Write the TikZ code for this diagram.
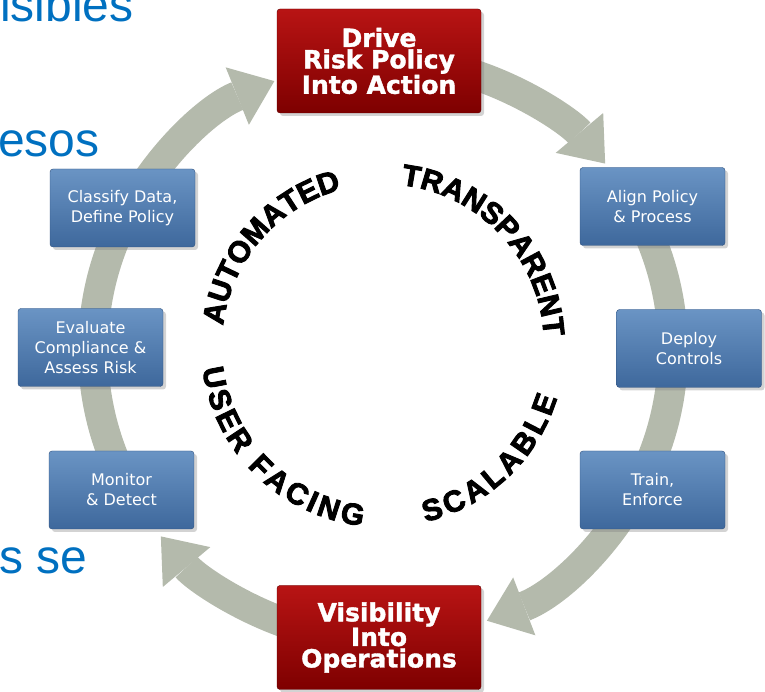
\documentclass[tikz,border=0pt]{standalone}
\usepackage{fontspec}
\usepackage{xcolor}
\usepackage{tikz}
\usetikzlibrary{arrows.meta, decorations.text, shadows}

\newfontfamily\slidefont{Liberation Sans}
\newfontfamily\heavyfont{DejaVu Sans}
\newfontfamily\keyfont{DejaVu Sans Bold}[FakeBold=1.5]
\newfontfamily\blackfont{Liberation Sans Bold}[FakeBold=3]
\newcommand{\curvefont}{\blackfont\fontsize{30}{30}\selectfont}

\definecolor{slideblue}{RGB}{0,112,192}
\definecolor{bandgray}{RGB}{180,186,172}
\definecolor{bluetop}{RGB}{106,148,196}
\definecolor{bluebot}{RGB}{62,104,156}
\definecolor{blueedge}{RGB}{46,80,126}
\definecolor{redtop}{RGB}{184,20,20}
\definecolor{redbot}{RGB}{126,0,0}
\definecolor{rededge}{RGB}{96,0,0}

\begin{document}
\begin{tikzpicture}[x=1pt, y=1pt,
            stepbox/.style={draw=blueedge, rounded corners=3pt, top color=bluetop, bottom color=bluebot,
                text=white, align=center, minimum width=145pt, minimum height=78pt,
                font=\heavyfont\fontsize{16}{20}\selectfont,
                drop shadow={opacity=0.35, shadow xshift=3pt, shadow yshift=-3pt}},
            keybox/.style={draw=rededge, rounded corners=3pt, top color=redtop, bottom color=redbot,
                text=white, align=center, minimum width=204pt, minimum height=104pt,
                font=\keyfont\fontsize{25}{21.5}\selectfont,
                drop shadow={opacity=0.35, shadow xshift=3pt, shadow yshift=-3pt}},
            band/.style={bandgray, line width=30pt, -{Triangle[width=62pt, length=40pt, line width=0pt]}},
            slide/.style={slideblue, inner sep=0pt, anchor=base west, font=\slidefont\fontsize{48}{48}\selectfont},
            ringtext/.style={decorate, decoration={text along path, text align=center, text={|\curvefont|#1}}},
            widetext/.style={decorate, decoration={text along path, text align=fit to path, text={|\curvefont|#1}}},
        ]
        \useasboundingbox (0,0) rectangle (765,692);
        \coordinate (ring) at (383,342);
        \coordinate (hub) at (383,347);

        \coordinate (a1) at ([shift={(215:290)}]ring);
        \coordinate (a2) at ([shift={(72:290)}]ring);
        \coordinate (a3) at ([shift={(36:290)}]ring);
        \coordinate (a4) at ([shift={(-108:290)}]ring);
        \draw[band] (a1) arc[start angle=215, end angle=112, radius=290];
        \draw[band] (a2) arc[start angle=72, end angle=40, radius=290];
        \draw[band] (a3) arc[start angle=36, end angle=-69, radius=290];
        \draw[band] (a4) arc[start angle=-108, end angle=-140, radius=290];

        \node[slide] (frag1) at (0,670) {isibles};
        \node[slide] (frag2) at (-2,535) {esos};
        \node[slide] (frag3) at (-1,118) {s se};

        \node[stepbox] (classify) at (122.5,484) {Classify Data,\\Define Policy};
        \node[stepbox] (evaluate) at (90.5,344.5) {Evaluate\\Compliance \&\\Assess Risk};
        \node[stepbox] (monitor) at (121.5,202) {Monitor\\\& Detect};
        \node[stepbox] (align) at (652.5,485.5) {Align Policy\\\& Process};
        \node[stepbox] (deploy) at (689,343.5) {Deploy\\Controls};
        \node[stepbox] (train) at (652.5,202) {Train,\\Enforce};
        \node[keybox] (drive) at (379,631) {Drive\\Risk Policy\\Into Action};
        \node[keybox] (visibility) at (379,54.5) {Visibility\\Into\\Operations};

        \coordinate (t1) at ([shift={(229:161)}]hub);
        \coordinate (t2) at ([shift={(133.3:161)}]hub);
        \coordinate (t3) at ([shift={(-76.5:182)}]hub);
        \coordinate (t4) at ([shift={(187.5:182)}]hub);
        \path[ringtext=AUTOMATED] (t1) arc[start angle=229, end angle=49, radius=161];
        \path[ringtext=TRANSPARENT] (t2) arc[start angle=133.3, end angle=-46.7, radius=161];
        \path[widetext=SCALABLE] (t3) arc[start angle=-76.5, end angle=-17, radius=182];
        \path[widetext=USER FACING] (t4) arc[start angle=187.5, end angle=263.5, radius=182];
\end{tikzpicture}
\end{document}
